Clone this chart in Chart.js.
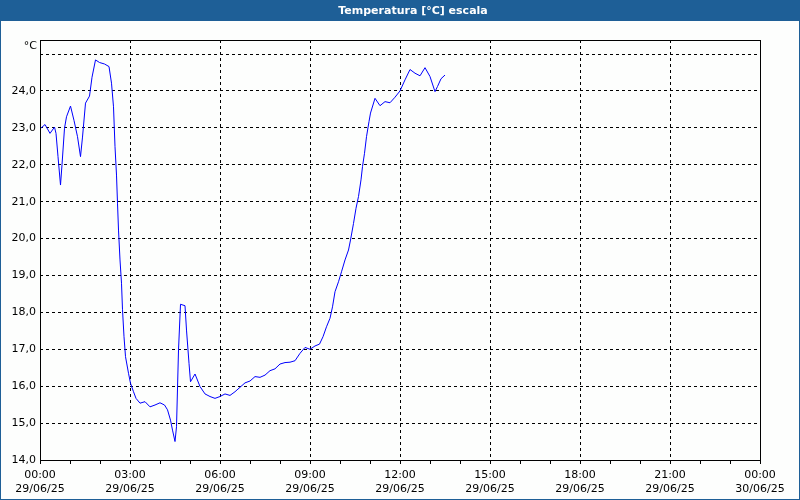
<!DOCTYPE html>
<html>
<head>
<meta charset="utf-8">
<script src="https://cdn.jsdelivr.net/npm/chart.js@4/dist/chart.umd.min.js"></script>
<style>
  html, body { margin: 0; padding: 0; background: #fdfefd; }
  #wrap { width: 800px; height: 500px; position: relative; }
</style>
</head>
<body>
<div id="wrap"><canvas id="tempChart" width="800" height="500"></canvas></div>
<script>
/* ================================
   Data (minutes since 00:00)
================================ */
const minutes = [
  0, 10, 20, 29, 32, 36, 41, 44, 49, 53, 61, 68, 75, 81, 85, 91, 99, 104, 111, 119,
  129, 138, 143, 147, 150, 153, 155, 157, 160, 163, 165, 168, 171, 177, 181, 187, 192, 200,
  210, 220, 230, 240, 249, 255, 261, 265, 270, 273, 277, 281, 290, 293, 298, 301,
  310, 320, 330, 340, 350, 360, 370, 380, 390, 400, 410, 420, 430, 440, 450, 460,
  470, 480, 490, 500, 510, 520, 530, 540, 550, 559, 566, 573, 580, 585, 590, 597,
  603, 610, 617, 621, 627, 632, 637, 642, 645, 649, 653, 658, 661, 670, 680, 690,
  700, 710, 720, 730, 740, 750, 760, 770, 780, 790, 795, 802, 810
];

const temperature = [
  22.97, 23.09, 22.85, 23.02, 22.85, 22.22, 21.45, 22.0, 22.99, 23.30, 23.59, 23.2, 22.76, 22.22, 22.75, 23.67, 23.86, 24.37, 24.84, 24.77,
  24.73, 24.66, 24.21, 23.57, 22.49, 21.72, 20.96, 20.23, 19.42, 18.79, 18.07, 17.34, 16.80, 16.35, 16.08, 15.85, 15.67, 15.54,
  15.58, 15.44, 15.49, 15.55, 15.49, 15.36, 15.08, 14.81, 14.50, 14.90, 16.98, 18.22, 18.18, 17.52, 16.62, 16.12,
  16.33, 15.99, 15.79, 15.72, 15.67, 15.72, 15.79, 15.75, 15.85, 15.97, 16.09, 16.14, 16.26, 16.24, 16.30, 16.42,
  16.47, 16.60, 16.64, 16.65, 16.69, 16.89, 17.05, 17.0, 17.09, 17.14, 17.34, 17.61, 17.84, 18.15, 18.56, 18.83,
  19.10, 19.42, 19.69, 19.96, 20.41, 20.82, 21.14, 21.59, 21.95, 22.31, 22.76, 23.17, 23.40, 23.80, 23.60, 23.71,
  23.68, 23.83, 24.0, 24.30, 24.58, 24.48, 24.41, 24.63, 24.39, 23.98, 24.12, 24.33, 24.43
];

const xTickTimes = ["00:00", "03:00", "06:00", "09:00", "12:00", "15:00", "18:00", "21:00", "00:00"];
const xTickDates = ["29/06/25", "29/06/25", "29/06/25", "29/06/25", "29/06/25", "29/06/25", "29/06/25", "29/06/25", "30/06/25"];

const titleText = "Temperatura [°C] escala";
const unitText = "°C";

/* ================================
   Style
================================ */
const FONT = "DejaVu Sans";
const BAR_BLUE = "#1e5f97";

/* ================================
   Frame + title plugin
================================ */
const framePlugin = {
  id: "frame",
  beforeDraw(chart) {
    const ctx = chart.ctx;
    ctx.save();
    ctx.fillStyle = "#fdfefd";
    ctx.fillRect(0, 0, chart.width, chart.height);
    ctx.fillStyle = BAR_BLUE;
    ctx.fillRect(0, 0, chart.width, 20);
    ctx.fillStyle = "#ffffff";
    ctx.font = `bold 11px "${FONT}"`;
    ctx.textAlign = "center";
    ctx.textBaseline = "middle";
    ctx.fillText(titleText, 413, 11);
    ctx.restore();
  },
  afterDraw(chart) {
    const ctx = chart.ctx;
    const a = chart.chartArea;
    ctx.save();
    // plot border
    ctx.strokeStyle = "#000";
    ctx.lineWidth = 1;
    ctx.setLineDash([]);
    ctx.strokeRect(Math.round(a.left) + 0.5, Math.round(a.top) + 0.5,
      Math.round(a.right - a.left), Math.round(a.bottom - a.top));
    // unit label
    ctx.fillStyle = "#000";
    ctx.font = `11px "${FONT}"`;
    ctx.textAlign = "right";
    ctx.textBaseline = "middle";
    ctx.fillText(unitText, 37, 46);
    // outer frame
    ctx.strokeStyle = BAR_BLUE;
    ctx.strokeRect(0.5, 20.5, chart.width - 1, chart.height - 21);
    ctx.restore();
  }
};

/* ================================
   Chart
================================ */
const points = minutes.map((m, i) => ({ x: m, y: temperature[i] }));

new Chart(document.getElementById("tempChart"), {
  type: "line",
  data: {
    datasets: [{
      data: points,
      borderColor: "#0000ff",
      borderWidth: 1,
      pointRadius: 0,
      tension: 0,
      fill: false
    }]
  },
  options: {
    responsive: false,
    animation: false,
    layout: { padding: { top: 40, right: 40, left: 0, bottom: 0 } },
    plugins: {
      legend: { display: false },
      tooltip: { enabled: false }
    },
    scales: {
      x: {
        type: "linear",
        min: 0,
        max: 1440,
        afterFit: s => { s.height = 40; },
        afterBuildTicks: s => {
          s.ticks = [];
          for (let m = 0; m <= 1440; m += 60) s.ticks.push({ value: m });
        },
        grid: {
          color: c => (c.tick && c.tick.value % 180 === 0 ? "#000" : "rgba(0,0,0,0)"),
          tickColor: "#000",
          tickLength: 4,
          lineWidth: 1
        },
        border: { display: false, dash: [3, 3] },
        ticks: {
          autoSkip: false,
          maxRotation: 0,
          padding: 4,
          color: "#000",
          font: { family: FONT, size: 11, lineHeight: 1.3 },
          callback: v => {
            if (v % 180 !== 0) return "";
            const i = v / 180;
            return [xTickTimes[i], xTickDates[i]];
          }
        }
      },
      y: {
        min: 14,
        max: 25.38,
        afterFit: s => { s.width = 40; },
        grid: {
          color: "#000",
          lineWidth: 1,
          drawTicks: false
        },
        border: { display: false, dash: [3, 3] },
        ticks: {
          stepSize: 1,
          padding: 4,
          color: "#000",
          font: { family: FONT, size: 11 },
          callback: v => (Number.isInteger(v) && v <= 24 ? v.toFixed(1).replace(".", ",") : "")
        }
      }
    }
  },
  plugins: [framePlugin]
});
</script>
</body>
</html>
